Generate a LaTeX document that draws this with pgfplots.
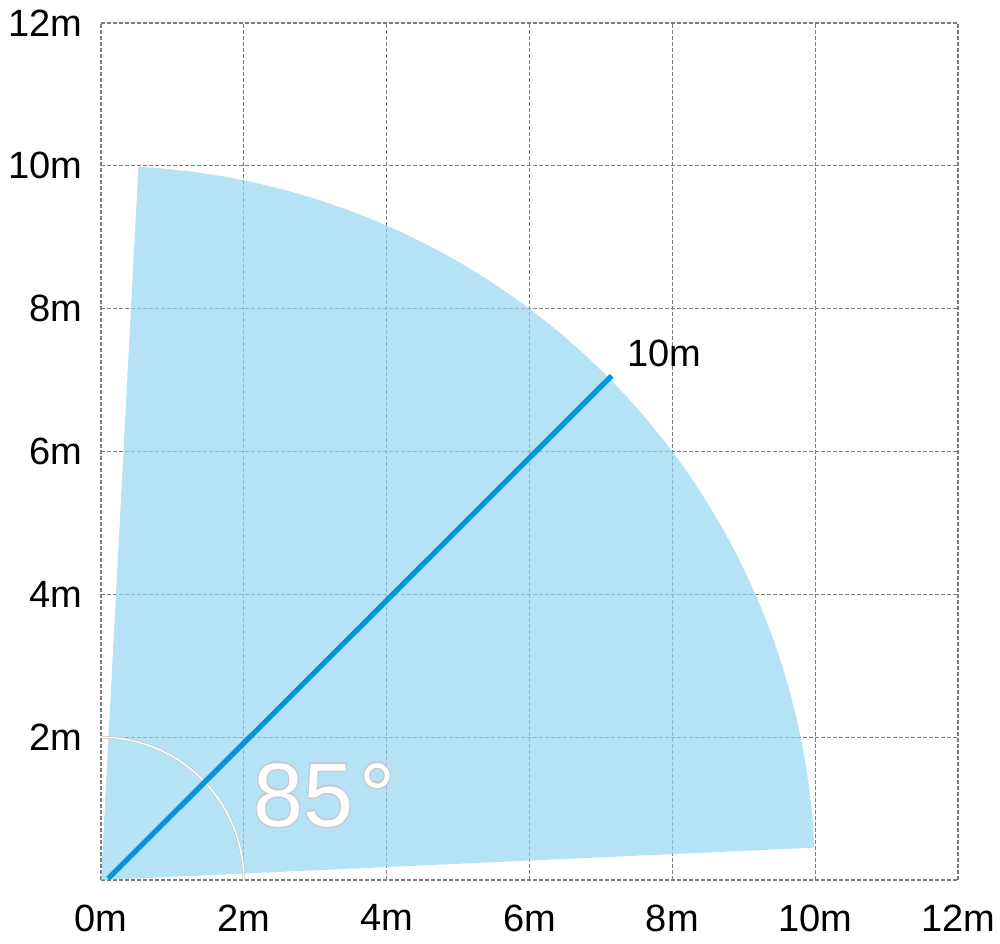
\documentclass[border=0pt]{standalone}
\usepackage{pgfplots}
\pgfplotsset{compat=1.18}
\usepackage{fontspec}
\setmainfont{Liberation Sans}
\usetikzlibrary{calc}
\definecolor{sect}{RGB}{148,212,241}
\definecolor{lblue}{RGB}{0,150,220}
\definecolor{gridc}{RGB}{125,125,125}
\definecolor{outl}{RGB}{200,200,200}
\newcommand{\degtxt}{85\hspace{3pt}°}
\tikzset{bigd/.style={font=\fontsize{45}{48}\selectfont}}
\begin{document}
\begin{tikzpicture}
\begin{axis}[name=ax, scale only axis, width=428.5pt, height=428.5pt,
  xmin=0, xmax=12, ymin=0, ymax=12,
  xtick={0,2,4,6,8,10,12}, ytick={0,2,4,6,8,10,12},
  xticklabels={0m,2m,4m,6m,8m,10m,12m},
  yticklabels={,2m,4m,6m,8m,10m,12m},
  grid=major,
  major grid style={draw=gridc, dash pattern=on 2pt off 1pt, line width=0.65pt},
  axis line style={draw=none},
  major tick length=0pt,
  tick label style={font=\fontsize{19}{22}\selectfont},
  xticklabel style={yshift=-8.7pt},
  yticklabel style={xshift=-5.8pt},
  clip=false]
% sector (polar: angle, radius)
\addplot[fill=sect, fill opacity=0.68, draw=none, data cs=polar] coordinates {
  (0,0) (2.6,10) (5,10) (7.5,10) (10,10) (12.5,10) (15,10) (17.5,10) (20,10)
  (22.5,10) (25,10) (27.5,10) (30,10) (32.5,10) (35,10) (37.5,10) (40,10)
  (42.5,10) (45,10) (47.5,10) (50,10) (52.5,10) (55,10) (57.5,10) (60,10)
  (62.5,10) (65,10) (67.5,10) (70,10) (72.5,10) (75,10) (77.5,10) (80,10)
  (82.5,10) (85,10) (87,10) (0,0)};
% small reference arc
\addplot[draw=outl, line width=1.3pt, data cs=polar] coordinates {
  (0,2) (5,2) (10,2) (15,2) (20,2) (25,2) (30,2) (35,2) (40,2) (45,2)
  (50,2) (55,2) (60,2) (65,2) (70,2) (75,2) (80,2) (85,2) (90,2)};
\addplot[draw=white, line width=0.7pt, data cs=polar] coordinates {
  (0,2) (5,2) (10,2) (15,2) (20,2) (25,2) (30,2) (35,2) (40,2) (45,2)
  (50,2) (55,2) (60,2) (65,2) (70,2) (75,2) (80,2) (85,2) (90,2)};
% radius line
\addplot[draw=lblue, line width=2.6pt] coordinates {(0.1,0.02) (7.15,7.06)};
\node[font=\fontsize{19}{22}\selectfont] at (axis cs:7.885,7.38) {10m};
\node[bigd, text=outl, xshift=0.7pt] at (axis cs:3.13,1.19) {\degtxt};
\node[bigd, text=outl, xshift=-0.7pt] at (axis cs:3.13,1.19) {\degtxt};
\node[bigd, text=outl, yshift=0.7pt] at (axis cs:3.13,1.19) {\degtxt};
\node[bigd, text=outl, yshift=-0.7pt] at (axis cs:3.13,1.19) {\degtxt};
\node[bigd, text=outl, xshift=0.5pt, yshift=0.5pt] at (axis cs:3.13,1.19) {\degtxt};
\node[bigd, text=outl, xshift=-0.5pt, yshift=0.5pt] at (axis cs:3.13,1.19) {\degtxt};
\node[bigd, text=outl, xshift=0.5pt, yshift=-0.5pt] at (axis cs:3.13,1.19) {\degtxt};
\node[bigd, text=outl, xshift=-0.5pt, yshift=-0.5pt] at (axis cs:3.13,1.19) {\degtxt};
\node[bigd, text=white] at (axis cs:3.13,1.19) {\degtxt};
\end{axis}
\pgfresetboundingbox
\path[use as bounding box] ($(ax.south west)+(-50.5pt,-31.5pt)$) rectangle ($(ax.south west)+(449.5pt,440pt)$);
\end{tikzpicture}
\end{document}
